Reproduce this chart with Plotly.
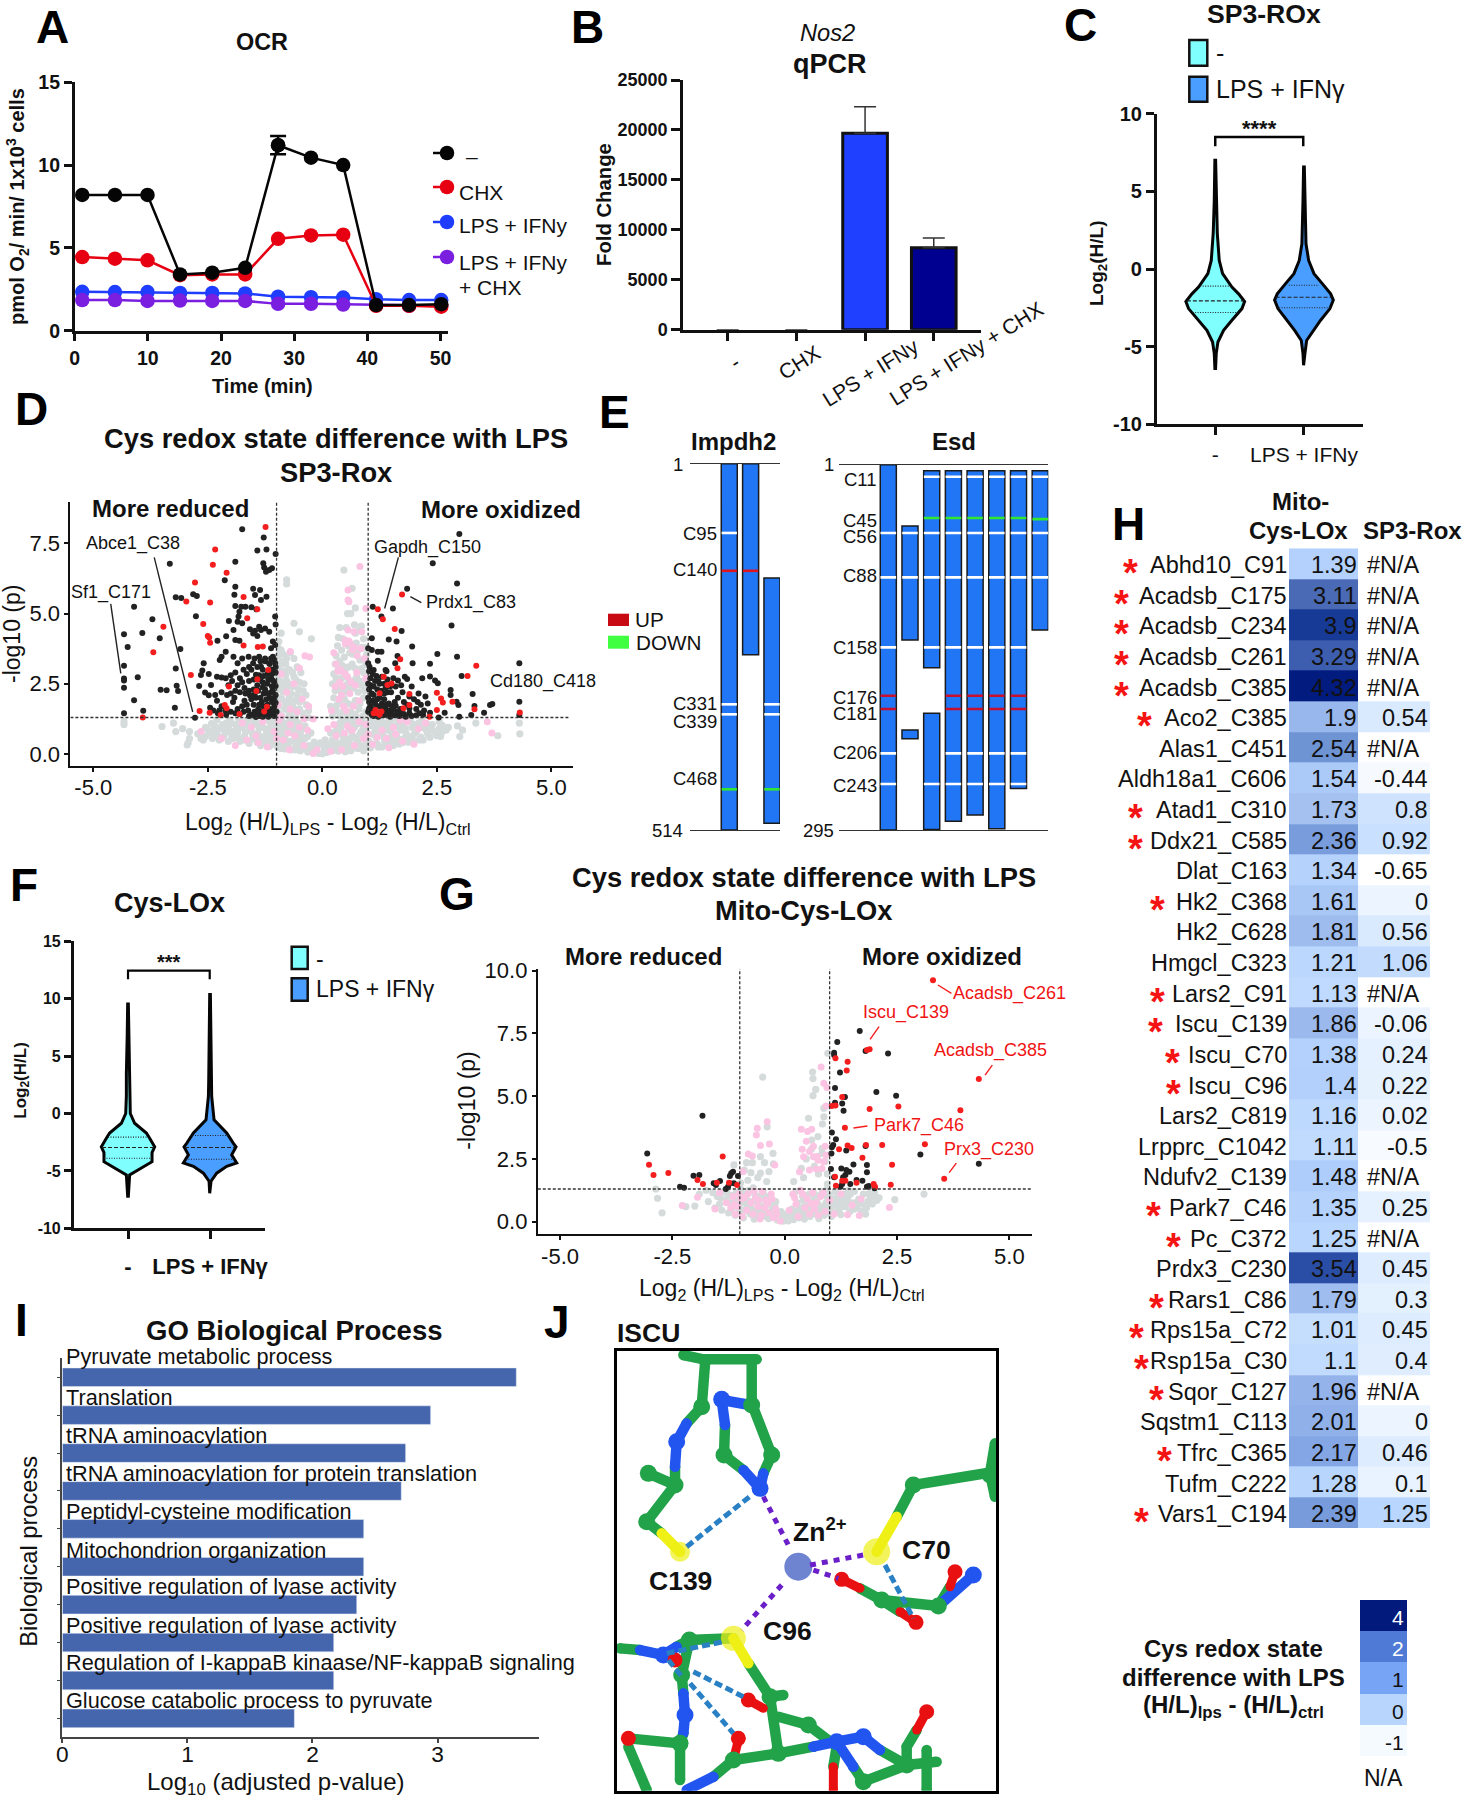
import plotly.graph_objects as go

W, H = 1463, 1800
FONT = "Liberation Sans"
INK = "#111111"

# ---------- A: OCR ----------
a_time = [1.03, 5.5, 9.95, 14.4, 18.8, 23.3, 27.8, 32.3, 36.7, 41.2, 45.7, 50.1]
a_ctrl = [8.2, 8.2, 8.2, 3.4, 3.5, 3.8, 11.2, 10.45, 10.0, 1.55, 1.55, 1.6]
a_chx = [4.45, 4.35, 4.25, 3.35, 3.4, 3.4, 5.55, 5.75, 5.8, 1.5, 1.5, 1.45]
a_lps = [2.35, 2.33, 2.33, 2.28, 2.28, 2.25, 2.05, 2.02, 2.0, 1.9, 1.85, 1.85]
a_both = [1.85, 1.85, 1.8, 1.82, 1.8, 1.8, 1.62, 1.62, 1.58, 1.55, 1.5, 1.5]
a_err_x, a_err_y, a_err = [27.8], [11.2], [0.55]
a_ticks_x = [0, 10, 20, 30, 40, 50]
a_ticks_y = [0, 5, 10, 15]

# ---------- B: qPCR ----------
b_groups = ["-", "CHX", "LPS + IFNy", "LPS + IFNy + CHX"]
b_vals = [0, 0, 19660, 8210]
b_err = [0, 0, 2670, 970]
b_colors = ["#2040FF", "#2040FF", "#2040FF", "#000090"]
b_ticks = [0, 5000, 10000, 15000, 20000, 25000]

# ---------- C and F: violins (value, half width) ----------
c1_y = [7.1, 4.4, 2.3, 0.55, -0.3, -1.16, -1.6, -2.1, -2.55, -3.3, -3.95, -4.7, -5.45, -6.4]
c1_w = [.004, .011, .023, .045, .083, .188, .263, .331, .301, .188, .094, .03, .011, .004]
c2_y = [6.67, 4.4, 1.63, 0.55, -0.3, -0.94, -1.6, -2.0, -2.55, -3.3, -3.95, -4.6, -5.45, -6.2]
c2_w = [.004, .011, .023, .053, .113, .207, .301, .331, .293, .188, .105, .03, .011, .004]
c_quart = [[-1.1, -2.05, -2.8], [-1.05, -1.82, -2.5]]
c_quart_w = [[.17, .32, .255], [.17, .32, .308]]
f1_y = [9.67, 6.7, 3.5, 1.5, 0, -0.85, -1.7, -2.15, -2.9, -3.4, -4.2, -4.75, -5.35, -7.2]
f1_w = [.004, .01, .02, .02, .028, .081, .224, .264, .325, .293, .293, .163, .02, .004]
f2_y = [10.5, 6.4, 2.9, 1.5, -0.55, -1.7, -2.6, -2.9, -3.6, -4.3, -4.6, -5.2, -5.9, -6.95]
f2_w = [.004, .012, .016, .02, .049, .203, .285, .317, .264, .325, .203, .081, .012, .004]
f_quart = [[-2.06, -2.96, -3.9], [-1.92, -2.96, -3.98]]
f_quart_w = [[.244, .317, .293], [.244, .305, .293]]
c_ticks = [-10, -5, 0, 5, 10]
f_ticks = [-10, -5, 0, 5, 10, 15]

# ---------- D: volcano SP3-Rox ----------
d_gray = [(-.78,6.2),(-.78,6.05),(-.62,4.65),(-.5,4.35),(-.24,4.1),(-.9,4.3),(-.95,4.0),(-.9,3.7),(-.97,3.5),(-.88,3.3),(-.95,3.05),(-.8,3.2),(-.7,3.6),(-.62,3.4),(-.55,3.1),(-.65,2.9),(-.8,2.8),(-.92,2.6),(-.72,2.5),(-.58,2.65),(-.47,2.9),(-.4,2.5),(-.52,2.3),(-.68,2.15),(-.85,2.2),(-.95,2.0),(-.75,1.85),(-.6,1.9),(-.45,2.0),(-.35,1.75),(-.5,1.6),(-.65,1.55),(-.82,1.6),(-.95,1.45),(-.3,1.3),
 (.47,6.55),(.65,5.9),(.62,5.0),(.38,4.5),(.52,4.5),(.7,4.6),(.8,4.4),(.85,4.55),(.35,4.15),(.45,4.1),(.72,4.3),(.9,4.1),(.93,3.8),(.78,3.7),(.6,3.6),(.42,3.7),(.3,3.5),(.28,3.2),(.38,3.3),(.5,3.0),(.65,3.2),(.82,3.35),(.95,3.2),(.9,2.9),(.75,2.75),(.58,2.6),(.42,2.7),(.3,2.7),(.22,2.5),(.35,2.35),(.5,2.2),(.68,2.35),(.85,2.45),(.97,2.3),(.9,2.0),(.72,1.9),(.55,1.8),(.38,1.9),(.25,2.0),(.18,1.7),(.3,1.55),(.45,1.5),(.62,1.5),(.8,1.6),(.95,1.5),(.72,5.2),(.55,5.0),
 (.33,3.85),(.48,3.45),(.56,3.85),(.66,3.55),(.74,3.95),(.87,3.8),(.97,3.55),(.34,2.98),(.44,3.15),(.58,3.1),(.72,3.05),(.86,3.05),(.25,2.85),(.36,2.6),(.52,2.45),(.66,2.6),(.8,2.6),(.95,2.65),(.28,2.25),(.42,2.15),(.6,2.35),(.78,2.2),(.92,2.25),(.32,1.75),(.48,1.95),(.64,1.75),(.82,1.8),(.22,1.35),(.38,1.35),(.55,1.35),(.72,1.4),(.88,1.35),
 (-.95,3.75),(-.85,3.55),(-.78,3.4),(-.92,3.2),(-.72,3.0),(-.85,2.95),(-.98,2.8),(-.62,2.75),(-.78,2.6),(-.88,2.45),(-.5,2.55),(-.65,2.4),(-.78,2.35),(-.95,2.3),(-.42,2.25),(-.55,2.1),(-.72,2.0),(-.88,1.95),(-.36,2.1),(-.5,1.85),(-.65,1.75),(-.8,1.8),(-.95,1.7),(-.3,1.55),(-.42,1.45),(-.58,1.4),(-.72,1.35),(-.88,1.35),(-.62,1.62),(-.75,1.55),
 (-4.33,1.15),(-4.33,1.05),(-3.5,.98),(-3.25,1.1),(-3.2,.8),(-3.05,.9),(-2.95,.32),(-2.93,.4),(-2.9,.55),(-2.9,.8),(-2.65,.55),(-2.6,.5),(-2.55,.62),(-2.5,.85),(-2.45,.75),(-2.4,.55),(-2.35,1.0),(-2.3,.7),(-2.25,.5),(-2.2,.9),(-2.15,.65),(-2.1,1.1),(-2.05,.45),(-2.0,.8),(-1.95,.55),(-1.9,1.05),(-1.85,.75),(-1.8,.45),(-1.75,.95),(-1.7,.62),(-1.65,1.2),(-1.6,.38),(-1.55,.8),(-1.5,.55),(-1.45,1.1),(-1.4,.7),(-1.35,.3),(-1.3,.95),(-1.25,.5),(-1.2,1.2),(-1.15,.28),(-1.1,.72),(-1.05,1.05),(-1.0,.4),(-.95,.85),(-.9,.2),(-.88,1.15),(-.82,.6),(-.78,.32),(-.72,.95),(-.68,.15),(-.62,.7),(-.58,1.2),(-.52,.38),(-.48,.12),(-.42,.9),(-.38,.55),(-.32,.07),(-.3,.3),(-.25,.75),(-.2,.04),(-.18,.42),(-.12,.22),(-.08,.02),(-.05,.4),(0,.01),(.03,.28),(.06,.5),(.1,.05),(.14,.35),(.18,.75),(.22,.12),(.28,.5),(.32,1.0),(.36,.2),(.42,.7),(.46,1.2),(.5,.08),(.55,.42),(.6,.9),(.65,.18),(.7,.6),(.75,1.1),(.8,.3),(.85,.8),(.9,.12),(.95,.5),(1.0,1.0),(1.05,.22),(1.1,.7),(1.15,1.2),(1.2,.35),(1.25,.85),(1.3,.25),(1.35,.6),(1.4,1.1),(1.45,.42),(1.5,.8),(1.55,.3),(1.6,1.0),(1.65,.55),(1.7,.85),(1.75,.4),(1.8,1.2),(1.85,.65),(1.9,.5),(1.95,.95),(2.0,.45),(2.05,.8),(2.1,1.1),(2.15,.6),(2.2,.5),(2.25,.9),(2.3,.72),(2.35,.6),(2.4,1.05),(2.45,.8),(2.5,.65),(2.55,.9),(2.6,.75),(2.7,.85),(3.06,.85),(2.95,1.0),(3.0,.62),(3.35,1.1),(3.83,.65),(4.31,.72),(4.3,1.1),(-1.6,1.0),(-1.3,.6),(-.98,1.25),(-.7,.45),(.4,.35),(.75,.5),(1.2,.95),(1.5,1.2),(-.55,.85),(-1.15,.95),(.95,.8),(-.8,1.0),(.6,.55),(-.35,.2),(.25,.2),
 (-2.3,1.22),(-2.02,1.2),(-1.82,1.24),(-1.52,1.25),(-1.27,1.22),(-1.08,1.22),(-.93,1.24),(-.7,1.25),(-.52,1.1),(-.38,1.0),(.38,1.1),(.55,1.22),(.68,1.25),(.87,1.2),(1.05,1.22),(1.28,1.25),(1.46,1.22),(1.65,1.22),(1.92,1.2),(2.17,1.2),(2.55,1.15),
 (-2.42,1.08),(-2.18,1.05),(-1.98,1.1),(-1.72,1.08),(-1.5,1.05),(-1.33,1.1),(-1.12,1.1),(-.9,1.05),(-.74,1.12),(-.6,1.05),(.52,1.08),(.66,1.05),(.82,1.08),(1.02,1.12),(1.25,1.1),(1.48,1.05),(1.72,1.08),(2.02,1.05),(2.28,1.08),(2.62,1.02),
 (-2.55,.95),(-2.28,.92),(-2.05,.98),(-1.8,.95),(-1.58,.9),(-1.38,.92),(-1.18,.85),(-1,.95),(-.85,.9),(-.66,.85),(-.48,.78),(-.32,.62),(.28,.8),(.4,.92),(.56,.98),(.7,.95),(.9,.98),(1.12,1.0),(1.32,.95),(1.55,.98),(1.8,.92),(2.18,.95),(2.38,.88),(2.75,.95),
 (-2.72,.72),(-2.4,.82),(-2.12,.78),(-1.9,.82),(-1.68,.78),(-1.48,.72),(-1.22,.75),(-1.02,.68),(-.9,.72),(-.74,.78),(-.55,.62),(-.44,.6),(.22,.5),(.34,.72),(.48,.62),(.64,.78),(.82,.72),(.98,.75),(1.15,.82),(1.3,.72),(1.42,.85),(1.62,.72),(1.82,.78),(2.0,.7),(2.28,.8),(2.58,.62),
 (-2.28,.6),(-1.98,.65),(-1.72,.5),(-1.52,.65),(-1.38,.5),(-1.18,.62),(-1.05,.5),(-.92,.55),(-.8,.42),(-.62,.48),(-.46,.45),(-.22,.2),(.16,.22),(.32,.35),(.45,.48),(.6,.35),(.78,.42),(.92,.62),(1.02,.45),(1.18,.58),(1.36,.45),(1.5,.6),(1.62,.42),(1.78,.55),(1.95,.62),(2.12,.5),
 (-1.82,.55),(-1.62,.45),(-1.42,.42),(-1.28,.38),(-1.08,.35),(-.9,.3),(-.74,.25),(-.58,.28),(-.42,.25),(-.28,.14),(-.14,.1),(.05,.12),(.2,.3),(.35,.1),(.48,.28),(.62,.12),(.72,.32),(.88,.28),(1.08,.32),(1.22,.25),(1.38,.32),(1.55,.4),(1.68,.36),(1.88,.42),(-1.15,.42),(-.98,.25),(-.82,.18),(-.6,.15),(-.45,.18),(.55,.2),(.78,.2),(1.0,.28)]
d_pink = [(.82,6.67),(.56,5.84),(.56,5.48),(.58,5.42),(.95,5.18),(.56,4.41),(.69,4.35),(.86,4.35),(.5,4.05),(.6,3.95),(.7,3.8),(.76,3.5),(.92,3.4),(.25,3.6),(.3,3.2),(.4,3.0),(.42,2.95),(.55,2.75),(.72,2.45),(.28,2.4),(.6,2.15),(.36,1.95),(.8,1.9),(.46,1.7),(.2,1.55),(-.7,3.65),(-.38,3.5),(-.28,3.45),(-.5,3.05),(-.9,2.85),(-.62,2.5),(-.78,2.2),(-.44,1.95),(-.96,1.75),(-.3,1.7),(-.7,1.6),(-.9,1.35),(-.2,1.25),
 (-2.65,.8),(-2.2,.55),(-1.9,.3),(-1.75,1.1),(-1.45,.65),(-1.2,.25),(-1.05,.8),(-.95,1.2),(-.85,.5),(-.72,.15),(-.6,.65),(-.5,.95),(-.4,.3),(-.2,.02),(.12,.9),(.3,.65),(.42,.15),(.55,1.0),(.7,.3),(.8,1.15),(.9,.55),(1.1,.35),(1.3,.85),(1.45,.22),(1.6,.7),(1.75,.45),(1.85,1.15),(2.0,.35),(2.1,.9),(2.25,1.1),(3.6,1.15),(3.7,.75),(1.7,1.2),(-1.3,1.15),(-1.65,.5),
 (.5,3.92),(.58,4.02),(.66,3.72),(.84,3.75),(.38,2.55),(.45,2.4),(.5,2.85),(.34,2.95),(.62,2.55),(.42,2.1),(.52,1.55),(.68,1.7),(.75,2.9),(.95,2.7),(-.55,1.5),(-.4,1.25),(-.7,1.05),(-.32,.85),(.25,1.05),(.48,.75),(.65,.85),(.95,1.05),(1.2,.6),(-1.55,.95),(-1.0,.55),(-.75,.75),(-1.4,.4),(-.12,.15),(.18,.1),(1.0,.7),(1.4,.55),(1.55,.95)]
d_black = [(-4.33,4.26),(-4.25,3.81),(-4.11,5.24),(-4.33,3.14),(-4.33,2.69),(-4.33,2.62),(-4.33,2.36),(-4.03,2.73),(-4.11,1.91),(-4.33,1.45),(-3.91,1.54),(-3.71,4.8),(-3.93,4.31),(-3.55,4.12),(-3.33,6.77),(-3.1,3.74),(-3.2,3.04),(-3.18,2.43),(-3.15,2.24),(-3.53,2.29),(-3.4,2.27),(-3.22,1.65),(-3.2,5.58),(-3.08,5.55),(-2.78,1.29),(-2.82,5.69),(-2.74,5.62),(-2.76,4.9),(-2.59,3.23),(-2.62,2.97),(-2.65,2.81),(-2.48,2.85),(-2.69,2.42),(-2.56,2.19),(-2.43,2.46),(-2.48,2.09),(-2.34,2.1),(-2.29,4.03),(-2.1,4.19),
 (-1.75,8.0),(-1.28,7.71),(-1.42,7.24),(-1.22,7.28),(-1.02,7.12),(-1.29,6.79),(-1.27,6.64),(-1.23,6.49),(-1.1,6.61),(-1.16,6.55),(-1.9,6.84),(-2.13,6.18),(-1.9,5.95),(-1.51,5.88),(-1.36,5.84),(-1.47,5.66),(-1.22,5.6),(-1.34,5.48),(-1.92,5.67),(-1.9,5.27),(-1.77,5.24),(-1.68,5.24),(-1.55,5.22),(-1.44,5.15),(-1.81,5.06),(-1.83,4.89),(-1.85,4.71),(-1.75,4.65),(-2.04,4.73),(-1.03,4.89),(-1.02,4.61),(-1.94,4.41),(-1.58,4.44),(-1.47,4.39),(-1.38,4.53),(-1.25,4.47),(-1.51,4.29),(-1.42,4.2),(-1.34,4.41),(-1.16,4.35),(-1.9,4.06),(-1.81,4.03),(-1.08,4.0),(-1.03,3.88),(-1.12,3.76),(-2.11,3.64),(-2.2,3.46),(-2.24,3.35),(-1.94,3.46),(-1.85,3.23),(-1.75,3.4),(-1.61,3.46),(-1.38,3.46),(-1.25,3.4),(-1.08,3.46),(-1.03,3.23),(-1.16,3.23),(-1.34,3.11),(-1.51,3.23),
 (-2.3,2.75),(-2.2,2.72),(-2.11,2.7),(-2.0,2.8),(-1.97,2.6),(-2.05,2.45),(-1.9,2.9),(-1.8,2.7),(-1.72,3.0),(-1.65,2.85),(-1.6,2.6),(-1.55,3.0),(-1.5,2.65),(-1.42,3.1),(-1.38,2.8),(-1.3,3.0),(-1.25,3.3),(-1.2,2.85),(-1.15,3.2),(-1.1,3.0),(-1.05,3.35),(-1.02,2.9),(-1.12,2.7),(-1.05,2.55),(-1.2,2.5),(-1.3,2.55),(-1.42,2.45),(-1.5,2.3),(-1.6,2.25),(-1.7,2.35),(-1.8,2.2),(-1.9,2.25),(-2.0,2.15),(-2.08,2.1),(-2.2,2.2),(-2.3,1.9),(-2.45,1.65),(-2.38,1.55),(-2.28,1.45),(-2.2,1.7),(-2.1,1.4),(-2.0,1.5),(-1.95,1.85),(-1.85,1.6),(-1.8,1.42),(-1.7,1.9),(-1.62,1.55),(-1.55,1.4),(-1.5,1.75),(-1.45,2.0),(-1.4,1.6),(-1.38,1.35),(-1.32,1.85),(-1.28,2.15),(-1.25,1.5),(-1.2,1.75),(-1.15,2.0),(-1.12,1.4),(-1.08,2.25),(-1.05,1.7),(-1.02,2.1),(-1.0,1.5),(-1.05,1.35),(-1.18,1.33),(-1.3,1.33),(-1.45,1.32),(-1.6,1.35),(-1.75,1.7),(-1.4,2.25),(-1.25,2.3),(-1.1,2.4),(-1.35,2.0),(-1.48,1.5),(-1.15,1.6),(-1.28,1.68),(-1.1,1.85),
 (-1.18,2.15),(-1.22,1.95),(-1.3,2.38),(-1.36,2.65),(-1.45,2.82),(-1.18,2.65),(-1.08,2.62),(-1.02,2.42),(-1.05,2.0),(-1.12,2.2),(-1.48,2.12),(-1.55,1.95),(-1.38,1.75),(-1.42,1.45),(-1.35,1.5),(-1.22,1.4),(-1.08,1.55),(-1.02,1.82),(-1.28,1.42),(-1.15,1.45),(-1.58,2.08),(-1.68,2.15),(-1.72,1.5),(-1.65,1.75),(-1.9,1.45),(-1.92,2.0),(-2.12,1.55),(-2.25,1.55),(-1.85,2.45),(-1.75,2.55),(-1.35,3.3),(-1.12,3.4),(-1.02,3.1),(-1.28,2.78),(-1.1,2.85),(-1.48,3.4),(-1.6,3.1),
 (1.1,5.24),(1.29,4.89),(1.54,5.18),(1.85,5.88),(2.41,6.79),(2.99,7.83),(2.94,6.07),(2.82,4.57),(1.73,4.38),(1.08,4.12),(1.45,4.08),(1.62,4.0),(1.96,3.83),(1.0,3.76),(1.08,3.7),(1.21,3.64),(1.29,3.64),(1.64,3.49),(2.51,3.56),(2.94,3.46),(1.21,3.32),(1.0,3.23),(1.03,3.11),(1.12,2.99),(1.59,3.23),(1.97,3.23),(2.35,3.21),(1.38,2.99),(1.85,2.67),(2.18,2.7),(2.35,2.76),(2.46,2.62),(2.52,2.52),(4.3,3.23),(3.04,2.78),(3.28,2.14),(4.3,1.86),(4.3,1.39),(3.66,1.74),(3.71,1.78),(3.53,1.47),(3.32,1.71),(3.25,1.39),(2.99,1.33),(2.93,1.86),(2.97,1.74),(2.8,2.28),(2.8,2.1),(2.67,1.47),(2.54,1.3),(2.35,1.47),
 (1.02,2.95),(1.05,2.7),(1.0,2.5),(1.1,2.85),(1.15,2.6),(1.02,2.3),(1.08,2.15),(1.0,2.0),(1.1,1.9),(1.05,1.7),(1.0,1.5),(1.08,1.4),(1.15,1.6),(1.2,2.3),(1.25,2.0),(1.3,2.75),(1.35,2.5),(1.4,2.95),(1.42,2.2),(1.45,1.8),(1.5,1.5),(1.55,2.7),(1.6,2.4),(1.65,2.0),(1.7,1.6),(1.75,2.2),(1.8,2.75),(1.85,1.75),(1.9,1.45),(1.95,2.4),(2.0,1.95),(2.05,1.6),(2.1,2.15),(2.15,1.75),(2.25,2.05),(2.3,1.8),(1.12,1.35),(1.18,1.45),(1.22,1.33),(1.28,1.5),(1.33,1.38),(1.38,1.6),(1.42,1.4),(1.48,1.33),(1.52,1.7),(1.58,1.38),(1.63,1.5),(1.68,1.35),(1.78,1.42),(1.82,1.33),(1.95,1.35),(2.05,1.38),(2.2,1.4),(1.12,2.1),(1.3,1.8),(1.22,1.7),(1.35,2.15),(1.5,2.2),(1.58,1.85),(1.9,2.05),
 (1.02,1.85),(1.05,2.45),(1.12,2.4),(1.18,2.78),(1.25,2.5),(1.02,1.62),(1.08,1.55),(1.15,1.8),(1.2,1.95),(1.28,2.25),(1.35,1.95),(1.38,2.35),(1.22,2.6),(1.4,1.75),(1.15,1.42),(1.3,1.62),(1.45,1.55),(1.35,1.45),(1.55,1.6),(1.42,2.65),(1.48,2.4),(1.6,1.72),(1.72,1.45),(1.78,1.85),(2.12,1.45),(2.22,1.55),(2.08,1.85),(1.65,2.62),(1.72,2.45),(1.9,1.62)]
d_red = [(-1.24,8.08),(-2.34,7.28),(-2.39,6.74),(-2.09,6.45),(-2.78,6.1),(-2.97,5.43),(-2.45,5.39),(-1.72,5.59),(-1.42,5.15),(-1.64,4.83),(-2.6,4.63),(-3.47,4.53),(-2.5,4.2),(-2.47,4.15),(-2.45,3.96),(-3.69,3.62),(-1.72,3.86),(-1.41,3.81),(-1.3,3.83),(-2.87,2.81),(-2.04,2.4),(-1.42,2.66),(-1.18,2.99),(-1.44,2.24),(-1.21,1.68),(-2.13,1.74),(-2.09,1.63),(-2.46,1.47),(-2.68,1.53),(-2.22,1.39),(-1.81,1.42),(-1.27,1.51),(-3.92,1.3),
 (1.21,5.15),(1.32,4.8),(1.74,5.68),(1.58,4.45),(1.7,3.37),(1.64,3.05),(1.34,2.75),(1.51,2.51),(1.42,2.46),(1.25,2.16),(1.9,2.14),(2.5,2.18),(2.59,1.98),(2.63,1.83),(3.36,3.14),(3.17,2.78),(2.84,1.86),(3.32,1.59),(2.5,1.57),(2.34,1.33),(4.31,1.48),(1.77,1.63),(1.9,1.74),(1.16,1.57),(1.21,1.45),(1.29,1.51),(1.25,1.39),(1.12,1.45)]
d_leaders = [[(-3.67,7.0),(-2.83,1.5)],[(-4.62,5.34),(-4.40,2.87)],[(1.66,7.0),(1.36,5.18)],[(1.92,5.6),(2.16,5.39)]]
v_ticks_x = [-5, -2.5, 0, 2.5, 5]
v_ticks_x_text = ["-5.0", "-2.5", "0.0", "2.5", "5.0"]
d_ticks_y = [0, 2.5, 5, 7.5]
g_ticks_y = [0, 2.5, 5, 7.5, 10]

# ---------- G: volcano Mito-Cys-LOx ----------
g_gray = [(.62,5.96),(.63,5.7),(-.49,5.76),(.69,5.27),(.63,5.02),(.96,6.71),(.87,4.52),(.87,4.18),(.53,4.12),(.84,3.89),(-.39,3.78),(.6,3.25),(.74,3.39),(.83,2.92),(.83,2.72),(-.26,2.72),(-.54,2.59),(-.85,2.35),(-.72,2.35),(-.45,2.35),(-1.13,2.26),(.37,2.12),(-.35,1.99),(-.54,1.93),(.6,2.9),(.48,2.5),(.66,2.2),(.9,2.4),(.75,1.9),(.42,1.75),(.95,1.9),(-.75,1.95),(-.9,2.05),(-.25,2.3),(-.6,1.75),(-.82,1.65),(-.4,1.6),(-.98,1.55),(.2,1.6),(.95,1.5),
 (-2.87,1.3),(-2.83,.93),(-2.73,.35),(-2.2,.6),(-2.0,.62),(-1.9,1.1),(-1.75,1.25),(-1.7,.8),(-1.6,1.15),(-1.55,.55),(-1.5,1.0),(-1.45,.7),(-1.4,.45),(-1.35,1.2),(-1.3,.85),(-1.25,.35),(-1.2,1.05),(-1.15,.6),(-1.1,.25),(-1.05,.85),(-1.0,1.2),(-.95,.45),(-.92,.15),(-.88,.95),(-.84,.62),(-.8,1.25),(-.76,.3),(-.72,.8),(-.68,.1),(-.65,1.05),(-.6,.5),(-.56,.22),(-.52,.9),(-.48,1.2),(-.44,.4),(-.4,.7),(-.36,.12),(-.32,1.0),(-.28,.3),(-.24,.55),(-.2,.8),(-.16,.06),(-.12,.25),(-.08,.4),(-.04,.02),(0,.15),(.04,.3),(.08,.03),(.12,.22),(.16,.5),(.2,.08),(.24,.35),(.28,.75),(.32,.15),(.36,.55),(.4,1.0),(.44,.1),(.48,.4),(.52,.8),(.56,.2),(.6,.62),(.64,1.15),(.68,.3),(.72,.9),(.76,.12),(.8,.5),(.84,1.2),(.88,.25),(.92,.75),(.96,.38),(1.0,1.05),(1.04,.2),(1.08,.65),(1.12,1.2),(1.16,.4),(1.2,.85),(1.25,.28),(1.3,1.1),(1.35,.6),(1.4,.95),(1.45,.4),(1.5,.75),(1.55,1.2),(1.6,.55),(1.65,.9),(1.7,.42),(1.75,1.1),(1.8,.3),(1.85,.8),(1.9,.95),(1.95,.7),(2.0,1.15),(2.05,.85),(2.1,.95),(2.45,.88),(3.1,1.1),(-.9,1.1),(-.6,.78),(-1.2,.42),(.3,.45),(.7,.55),(1.1,.9),(-.3,.65),(-.1,.12),(.1,.12),(-.75,.55),(.5,.25),(.9,.6),(1.25,.6),(-1.0,.7),
 (-1.42,.95),(-1.28,1.12),(-1.12,.85),(-.98,1.0),(-.82,.82),(-.7,1.18),(-.58,1.0),(-.46,.6),(-.38,.92),(-.3,.42),(-.22,.68),(-.5,.35),(-.62,.35),(-.85,.42),(-1.02,.42),(-1.18,.75),(-.9,.78),(-.78,.6),(-.68,.42),(-.55,.62),(-.42,.2),(-.26,.18),(.28,.22),(.38,.3),(.46,.7),(.54,.5),(.6,.35),(.66,.9),(.74,.7),(.82,.3),(.86,.6),(.94,1.0),(1.02,.52),(1.06,.85),(1.14,.7),(1.22,.52),(1.28,.85),(1.38,.75),(1.46,1.1),(1.54,.5),(1.62,.8),(1.72,.7),(1.82,.55),(1.88,1.12),(2.02,1.0),(-.98,1.3),(-.7,1.35),(-.45,1.05),(-1.3,1.3),(.55,1.1),(.78,1.05),(1.18,1.1),(1.42,1.25),(.25,1.2),(.42,.85),(.95,1.3),(-1.08,1.15)]
g_pink = [(.81,6.16),(.87,5.51),(.94,5.35),(.92,4.61),(-.39,3.98),(-.61,3.72),(-.63,3.45),(.37,3.68),(.6,3.68),(.51,3.59),(-.34,3.09),(-.54,3.03),(.39,2.88),(.55,2.79),(-.81,2.7),(-.72,2.62),(.42,2.59),(.64,2.59),(.92,2.66),(.87,2.39),(-.22,2.26),(.33,1.99),(.55,2.06),(.83,2.12),(-.93,1.99),(-2.28,.64),(-1.94,.97),(2.33,.56),(1.66,.24),(1.4,.27),
 (-1.55,.5),(-1.45,1.15),(-1.3,.75),(-1.2,.55),(-1.1,.3),(-1.15,1.0),(-1.05,.6),(-.95,.2),(-.98,.9),(-.85,.45),(-.82,1.1),(-.75,.75),(-.7,.3),(-.65,.95),(-.6,.6),(-.55,.1),(-.5,1.2),(-.45,.55),(-.42,.85),(-.35,.35),(-.3,1.1),(-.25,.15),(-.2,.5),(-.1,.03),(.1,.45),(.18,1.1),(.25,.7),(.3,.2),(.35,1.25),(.45,.55),(.5,.9),(.55,.3),(.62,1.15),(.7,.75),(.75,.25),(.8,1.0),(.9,.4),(1.0,.85),(1.1,.3),(1.25,1.1),(1.5,.65),(1.7,.9),
 (-1.12,.7),(-1.02,1.1),(-.9,.95),(-.68,1.22),(-.58,.85),(-.52,.25),(-.38,.72),(-.28,.9),(-.18,.3),(.22,.95),(.4,1.1),(.58,.72),(.66,.5),(.86,1.15),(.7,2.1),(.74,2.45),(.9,3.0),(.48,3.2),(.64,3.0),(.72,2.6)]
g_black = [(1.67,7.6),(1.17,7.16),(1.1,6.73),(1.1,6.64),(1.8,6.8),(2.3,6.7),(1.23,5.94),(1.12,5.33),(2.04,5.17),(2.48,5.02),(1.34,4.97),(1.28,4.71),(1.12,4.74),(1.31,4.42),(-1.83,4.22),(1.05,3.55),(1.14,3.28),(1.08,3.05),(1.05,2.96),(1.37,2.83),(1.8,3.01),(1.04,2.72),(3.02,2.68),(4.32,2.31),(-3.06,2.72),(1.53,2.28),(1.83,2.26),(1.26,2.12),(1.03,2.1),(1.37,2.06),(1.44,1.99),(1.35,1.86),(1.83,1.97),(1.3,1.77),(1.1,1.77),(1.6,1.66),(1.73,1.63),(1.46,1.5),(1.24,1.39),(1.28,1.5),(1.83,1.39),(1.87,1.42),(2.0,1.33),(-2.03,1.83),(-1.9,1.86),(-1.15,1.99),(-1.19,1.93),(-1.22,1.82),(-1.04,1.82),(-1.44,1.62),(-1.58,1.53),(-1.53,1.46),(-2.33,1.39),(-2.24,1.35),(-1.22,1.53),(-1.26,1.39),(-1.31,1.3),(-1.13,1.53)]
g_red = [(3.3,9.62),(1.89,6.87),(1.83,6.84),(1.4,6.37),(1.13,6.51),(1.38,6.02),(4.32,5.68),(1.28,4.97),(1.05,4.61),(1.13,4.63),(1.89,4.49),(2.53,4.59),(3.91,4.44),(1.34,3.74),(1.4,3.03),(1.49,2.93),(1.21,2.88),(1.81,3.05),(2.17,3.05),(3.12,3.08),(-1.38,2.6),(1.73,2.55),(2.39,2.27),(-3.02,2.27),(-2.92,1.86),(-2.59,1.94),(-1.94,1.66),(-1.82,1.5),(-1.51,1.55),(-1.24,1.55),(-1.06,1.46),(3.55,1.71),(2.36,1.47),(1.12,1.79),(1.28,1.63),(1.35,1.63),(1.6,1.55),(1.98,1.5),(2.01,1.39),(1.14,1.43)]
g_leaders = [[(3.41,9.43),(3.71,9.1)],[(2.1,7.77),(1.9,7.26)],[(4.62,6.24),(4.46,5.84)],[(1.84,3.81),(1.53,3.73)],[(3.82,2.33),(3.66,1.95)]]

# ---------- E: peptide coverage ----------
e1_cols = [0, 1, 2]
e1_start = [1, 1, 161]
e1_end = [514, 268.5, 504.6]
e1_bands = {"#FFFFFF": [(0,98),(2,338),(0,338),(2,352),(0,352)], "#E0141E": [(0,151),(1,151)], "#30E830": [(0,457),(2,457)]}
e2_cols = [0, 1, 1, 2, 2, 3, 4, 5, 6, 7]
e2_start = [1, 50.4, 214.5, 5.8, 201, 5.8, 5.8, 5.8, 5.8, 5.8]
e2_end = [295, 142, 221.5, 164.4, 294.5, 288, 283, 294, 261.7, 134]
e2_white = [(0,56),(0,91.7),(0,148),(0,233.3),(0,258),(1,56),(1,91.7),(2,10.7),(2,56),(2,91.7),(2,148),(2,258)] + \
    [(c, r) for c in (3, 4, 5, 6) for r in (10.7, 56, 91.7, 148, 233.3, 258)] + [(7,10.7),(7,56),(7,91.7)]
e2_red = [(0,187),(0,197.6)] + [(c, r) for c in (3, 4, 5, 6) for r in (187, 197.6)]
e2_green = [(2,43.9),(3,43.9),(4,43.9),(5,43.9),(6,43.9),(7,44.8)]
e1_names = ["C95", "C140", "C331", "C339", "C468"]
e1_label_y = [534, 569, 703.7, 721.3, 778.7]
e2_names = ["C11", "C45", "C56", "C88", "C158", "C176", "C181", "C206", "C243"]
e2_label_y = [480, 520, 536.7, 575.7, 647.3, 697.7, 713.3, 752.7, 785.7]

# ---------- H: table ----------
h_rows = ["Abhd10_C91","Acadsb_C175","Acadsb_C234","Acadsb_C261","Acadsb_C385","Aco2_C385","Alas1_C451","Aldh18a1_C606","Atad1_C310","Ddx21_C585","Dlat_C163","Hk2_C368","Hk2_C628","Hmgcl_C323","Lars2_C91","Iscu_C139","Iscu_C70","Iscu_C96","Lars2_C819","Lrpprc_C1042","Ndufv2_C139","Park7_C46","Pc_C372","Prdx3_C230","Rars1_C86","Rps15a_C72","Rsp15a_C30","Sqor_C127","Sqstm1_C113","Tfrc_C365","Tufm_C222","Vars1_C194"]
h_lox = [1.39,3.11,3.9,3.29,4.32,1.9,2.54,1.54,1.73,2.36,1.34,1.61,1.81,1.21,1.13,1.86,1.38,1.4,1.16,1.11,1.48,1.35,1.25,3.54,1.79,1.01,1.1,1.96,2.01,2.17,1.28,2.39]
h_rox = [None,None,None,None,None,.54,None,-.44,.8,.92,-.65,0,.56,1.06,None,-.06,.24,.22,.02,-.5,None,.25,None,.45,.3,.45,.4,None,0,.46,.1,1.25]
h_star_zx = [92,63,63,63,63,133,None,None,105,105,None,173,None,None,172,166,216,220,None,None,None,161,221,None,170,108,124,170,None,192,None,124]
h_scale_v = [-.65,-.5,0,.25,.54,.8,1.01,1.25,1.48,1.73,1.9,2.17,2.54,3.11,3.54,3.9,4.32]
h_scale_c = ["#FFFFFF","#F7FBFF","#EBF4FF","#E5F1FE","#DAEAFE","#CFE3FE","#C5DEFE","#B9D6FE","#AFCDFA","#A4C1F0","#98B7EC","#85A6E5","#6E94D4","#4A6AB5","#2A4EA5","#173A96","#021B7F"]
key_vals = [4, 2, 1, 0, -1]
key_cols = ["#021A7C", "#4F7BD6", "#78A4F5", "#B7D5FD", "#F5FAFF"]

# ---------- I: GO ----------
i_terms = ["Pyruvate metabolic process","Translation","tRNA aminoacylation","tRNA aminoacylation for protein translation","Peptidyl-cysteine modification","Mitochondrion organization","Positive regulation of lyase activity","Positive regulation of lyase activity","Regulation of I-kappaB kinaase/NF-kappaB signaling","Glucose catabolic process to pyruvate"]
i_vals = [3.63, 2.945, 2.745, 2.71, 2.41, 2.41, 2.354, 2.17, 2.17, 1.855]
i_label_y = [1356.7, 1397.7, 1435.7, 1473.7, 1511.7, 1550, 1586, 1625.3, 1662.3, 1700]

# ---------- J: ISCU model ----------
j_green = [[(460,165),(520,178),(680,178)],[(525,190),(515,320)],[(665,180),(665,310)],[(515,320),(470,370)],[(435,500),(435,555)],[(355,520),(435,555)],[(435,555),(350,665),(395,700)],[(585,375),(582,465),(640,510)],[(665,310),(725,465),(700,520)],
 [(1395,515),(1150,555),(1100,650)],[(1395,430),(1380,520),(1395,590)],[(990,865),(1055,900),(1225,918),(1260,860)],[(1055,900),(1110,935)],
 [(270,1045),(330,1050)],[(440,1040),(478,1020),(610,1015)],[(655,1090),(720,1190),(745,1360),(610,1380),(550,1430)],[(478,1020),(455,1125),(460,1180)],[(460,1300),(450,1330),(295,1315)],[(295,1340),(350,1470)],[(450,1330),(450,1440)],[(745,1360),(850,1340)],[(970,1400),(1000,1445),(1130,1395),(1130,1340),(1160,1290)],[(1050,1350),(1130,1395),(1220,1385)],[(1190,1350),(1190,1470)],[(745,1250),(835,1275),(920,1340),(910,1400)],[(720,1190),(760,1185)]]
j_blue = [[(470,370),(440,425),(435,500)],[(575,300),(585,375)],[(640,510),(690,565),(700,520)],[(575,300),(660,315)],[(1225,918),(1270,875),(1330,825)],[(330,1050),(400,1065),(440,1040)],[(460,1180),(465,1245),(460,1300)],[(550,1430),(470,1470)],[(850,1340),(920,1325),(970,1400)],[(920,1325),(1000,1310),(1050,1350)]]
j_yellow = [[(395,700),(450,755)],[(1100,650),(1040,755)],[(610,1015),(655,1090)]]
j_red = [[(935,838),(990,865)],[(1260,860),(1275,815)],[(1110,935),(1158,967)],[(610,1380),(625,1320)],[(1160,1290),(1190,1235)],[(910,1400),(910,1470)],[(700,1225),(655,1200)]]
j_purple = [[(700,590),(780,745)],[(840,795),(1000,765)],[(850,810),(925,835)],[(755,855),(635,990)]]
j_dash = [[(470,740),(665,585)],[(1065,795),(1150,955)],[(410,1060),(580,1025)],[(415,1080),(460,1135)],[(480,1150),(610,1300)],[(490,1115),(640,1190)]]
j_atoms_green = [(515,320),(665,315),(725,465),(582,465),(435,555),(350,665),(355,520),(1150,555),(1380,525),(1055,900),(1225,918),(478,1020),(455,1125),(720,1190),(745,1360),(610,1380),(450,1330),(835,1275),(1130,1395),(1000,1445)]
j_atoms_blue = [(575,298),(690,565),(440,425),(400,1065),(465,1245),(920,1325),(1000,1310),(1330,825)]
j_atoms_red = [(935,838),(1158,967),(1275,815),(1190,1235),(625,1315),(655,1200),(295,1315),(435,1080)]
j_atoms_yellow = [(450,755),(1040,755),(610,1015)]
j_atoms_yellow_size = [20, 27, 25]
j_zn = [(805,800)]

fig = go.Figure()
layout = {}
anns = []
shapes = []


def T(x, y, s, size, bold=False, color=INK, anchor="center", angle=0, italic=False):
    if bold:
        s = f"<b>{s}</b>"
    if italic:
        s = f"<i>{s}</i>"
    anns.append(dict(x=x / W, y=1 - y / H, xref="paper", yref="paper", text=s, showarrow=False,
                     xanchor=anchor, yanchor="middle", textangle=angle, borderpad=0, borderwidth=0,
                     font=dict(size=size, color=color, family=FONT)))


def R(x0, y0, x1, y1, fill, lw=2.5, lc=INK):
    shapes.append(dict(type="rect", xref="paper", yref="paper", x0=x0 / W, x1=x1 / W, y0=1 - y0 / H, y1=1 - y1 / H,
                       fillcolor=fill, line=dict(color=lc, width=lw)))


def axes(n, l, r, t, b, xr, yr, xo=None, yo=None):
    s = "" if n == 1 else str(n)
    base = dict(showline=True, linecolor=INK, linewidth=2.5, ticks="outside", ticklen=8, tickwidth=2.5,
                tickcolor=INK, zeroline=False, showgrid=False)
    xd = dict(base, domain=[l / W, r / W], range=xr, anchor="y" + s)
    yd = dict(base, domain=[1 - b / H, 1 - t / H], range=yr, anchor="x" + s)
    xd.update(xo or {})
    yd.update(yo or {})
    layout["xaxis" + s] = xd
    layout["yaxis" + s] = yd
    return dict(xaxis="x" + s, yaxis="y" + s)


HIDE = dict(showline=False, ticks="", showticklabels=False, tickmode="array", tickvals=[])


def tf(size, bold=False, color=INK):
    return dict(size=size, family=FONT, color=color, weight="bold" if bold else "normal")


def add(trace):
    trace.showlegend = False
    trace.hoverinfo = "skip"
    fig.add_trace(trace)


def segs(lines):
    xs, ys = [], []
    for ln in lines:
        for p in ln:
            xs.append(p[0])
            ys.append(p[1])
        xs.append(None)
        ys.append(None)
    return xs, ys


# ---- A ----
A = axes(1, 74.7, 447.6, 82.3, 330.7, [0, 50.97], [0, 15],
         dict(tickvals=a_ticks_x, tickfont=tf(19.5, True)),
         dict(tickvals=a_ticks_y, tickfont=tf(19.5, True)))
for ys, col in ((a_lps, "#1F3DFF"), (a_both, "#7A1FE0"), (a_chx, "#E60012"), (a_ctrl, "#050505")):
    add(go.Scatter(x=a_time, y=ys, mode="lines+markers", cliponaxis=False,
                   line=dict(color=col, width=2.5), marker=dict(color=col, size=14.5), **A))
add(go.Scatter(x=a_err_x, y=a_err_y, mode="markers", cliponaxis=False, marker=dict(color="#050505", size=14.5),
               error_y=dict(type="data", array=a_err, color="#050505", thickness=2.5, width=8), **A))
# legend keys for A use a page-scale axis
OV = axes(13, 0, W, 0, H, [0, W], [H, 0], HIDE, HIDE)
for yk, col in ((153, "#050505"), (187, "#E60012"), (222, "#1F3DFF"), (257, "#7A1FE0")):
    add(go.Scatter(x=[433, 447], y=[yk, yk], mode="lines", line=dict(color=col, width=2.5), **OV))
    add(go.Scatter(x=[447], y=[yk], mode="markers", marker=dict(color=col, size=14.5), **OV))
T(466, 156, "–", 21, anchor="left")
T(458.7, 192, "CHX", 21, anchor="left")
T(458.7, 225, "LPS + IFNy", 21, anchor="left")
T(458.7, 263, "LPS + IFNy", 21, anchor="left")
T(458.7, 287, "+ CHX", 21, anchor="left")
T(262, 42, "OCR", 23.4, True)
T(262, 385.7, "Time (min)", 20, True)
T(18, 207, "pmol O<sub>2</sub>/ min/ 1x10<sup>3</sup> cells", 20, True, angle=-90)
for x, y, s in ((53, 27, "A"), (587, 27, "B"), (1080, 25, "C"), (31, 409, "D"), (614, 412, "E"), (24, 885, "F"),
                (456.5, 894, "G"), (1128, 524, "H"), (21, 1320, "I"), (557, 1322, "J")):
    T(x, y, s, 46, True, "#000000")

# ---- B ----
B = axes(2, 683, 980.7, 80, 329.7, [-.65, 3.683], [0, 25000],
         dict(tickvals=[0, 1, 2, 3], showticklabels=False, ticklen=9),
         dict(tickvals=b_ticks, ticktext=[str(v) for v in b_ticks], tickfont=tf(18, True), ticklen=9))
add(go.Bar(x=[0, 1, 2, 3], y=b_vals, width=.65, marker=dict(color=b_colors, line=dict(color=INK, width=[0, 0, 3, 3])),
           error_y=dict(type="data", symmetric=False, array=b_err, arrayminus=[0, 0, 0, 0], color="#333333",
                        thickness=1.5, width=11), **B))
for (x, y), s in zip(((734, 362), (799, 362), (870.4, 372), (966, 353)), b_groups):
    T(x, y, s, 21, angle=-32)
T(827, 33, "Nos2", 23.7, italic=True)
T(830, 64, "qPCR", 27, True)
T(604, 205, "Fold Change", 20.3, True, angle=-90)


# ---- violins ----
def violin(ax, c, ys, ws, fill, qy, qw):
    add(go.Scatter(x=[c + w for w in ws] + [c - w for w in reversed(ws)], y=ys + ys[::-1], mode="lines",
                   fill="toself", fillcolor=fill, line=dict(color="#050505", width=3), **ax))
    for i, (v, w) in enumerate(zip(qy, qw)):
        add(go.Scatter(x=[c - w, c + w], y=[v, v], mode="lines",
                       line=dict(color="#222222", width=1.1, dash="4px,2px" if i == 1 else "1px,1.5px"), **ax))


C = axes(3, 1156.7, 1363.3, 113.7, 424.3, [-.66, 1.669], [-10, 10],
         dict(tickvals=[0, 1], ticktext=["-", "LPS + IFNy"], tickfont=tf(21), ticklabelstandoff=2),
         dict(tickvals=c_ticks, ticktext=["-10", "-5", "0", "5", "10"], tickfont=tf(20, True)))
violin(C, 0, c1_y, c1_w, "#80FFFF", c_quart[0], c_quart_w[0])
violin(C, 1, c2_y, c2_w, "#4A9EFF", c_quart[1], c_quart_w[1])
add(go.Scatter(x=[0, 0, .992, .992], y=[7.9, 8.5, 8.5, 7.9], mode="lines", line=dict(color="#050505", width=2.5), **C))
T(1259.7, 128, "****", 22, True)
T(1264, 14, "SP3-ROx", 26.6, True)
T(1098, 263, "Log<sub>2</sub>(H/L)", 19, True, angle=-90)
R(1189.3, 40, 1207.3, 65.7, "#80FFFF")
R(1189.3, 76.7, 1207.3, 101.7, "#4A9EFF")
T(1216, 53, "-", 25, anchor="left")
T(1216, 89, "LPS + IFNγ", 25, anchor="left")

F = axes(4, 73.7, 265, 941.3, 1228.3, [-.662, 1.67], [-10, 15],
         dict(tickvals=[0, 1], ticktext=["-", "LPS + IFNγ"], tickfont=tf(22, True), ticklabelstandoff=9),
         dict(tickvals=f_ticks, ticktext=["-10", "-5", "0", "5", "10", "15"], tickfont=tf(16, True), ticklen=7))
violin(F, 0, f1_y, f1_w, "#80FFFF", f_quart[0], f_quart_w[0])
violin(F, 1, f2_y, f2_w, "#4A9EFF", f_quart[1], f_quart_w[1])
add(go.Scatter(x=[0, 0, .996, .996], y=[11.7, 12.45, 12.45, 11.7], mode="lines", line=dict(color="#050505", width=2.2), **F))
T(169, 962, "***", 20, True)
T(169, 902.7, "Cys-LOx", 27, True)
T(21.7, 1080, "Log<sub>2</sub>(H/L)", 17, True, angle=-90)
R(291.7, 946.7, 307.7, 969, "#80FFFF")
R(291.7, 978.3, 307.7, 1000.7, "#4A9EFF")
T(316, 959, "-", 23, anchor="left")
T(316, 989, "LPS + IFNγ", 23, anchor="left")


# ---- volcanoes ----
def volcano(ax, gray, pink, black, red, leaders, lead_col, x_rng, y_rng):
    for pts, col, size in ((gray, "#D5DBDB", 7.2), (pink, "#FBC4E2", 7), (black, "#222222", 6), (red, "#F51E1E", 6)):
        add(go.Scatter(x=[p[0] for p in pts], y=[p[1] for p in pts], mode="markers",
                       marker=dict(color=col, size=size, line=dict(width=0)), **ax))
    for vx in (-1, 1):
        add(go.Scatter(x=[vx, vx], y=y_rng, mode="lines", line=dict(color="#333333", width=1.3, dash="3px,2px"), **ax))
    add(go.Scatter(x=x_rng, y=[1.3, 1.3], mode="lines", line=dict(color="#333333", width=1.3, dash="3px,2px"), **ax))
    lx, ly = segs(leaders)
    add(go.Scatter(x=lx, y=ly, mode="lines", line=dict(color=lead_col, width=1.4), **ax))


vol_x = dict(tickvals=v_ticks_x, ticktext=v_ticks_x_text, tickfont=tf(22), ticklen=4, tickwidth=1.5, linewidth=2, ticklabelstandoff=-3)
D = axes(5, 70.4, 573.4, 501.7, 765.7, [-5.5, 5.48], [-.416, 8.98], vol_x,
         dict(tickvals=d_ticks_y, ticktext=["0.0", "2.5", "5.0", "7.5"], tickfont=tf(22), ticklen=4, tickwidth=1.5, linewidth=2))
volcano(D, d_gray, d_pink, d_black, d_red, d_leaders, "#222222", [-5.5, 5.4], [-.416, 8.98])
T(336, 439, "Cys redox state difference with LPS", 27.3, True)
T(336, 472.7, "SP3-Rox", 27.3, True)
T(170.8, 508.7, "More reduced", 24, True)
T(500.6, 509, "More oxidized", 24, True)
T(328, 823, "Log<sub>2</sub> (H/L)<sub>LPS</sub> - Log<sub>2</sub> (H/L)<sub>Ctrl</sub>", 23)
T(12, 634, "-log10 (p)", 23, angle=-90)
T(86, 544, "Abce1_C38", 18, anchor="left")
T(71, 592.7, "Sf1_C171", 18, anchor="left")
T(373.7, 547.7, "Gapdh_C150", 18, anchor="left")
T(426, 602.7, "Prdx1_C83", 18, anchor="left")
T(490, 681.7, "Cd180_C418", 18, anchor="left")

G = axes(6, 537.8, 1031.6, 968.7, 1234.3, [-5.495, 5.495], [-.505, 10.08], vol_x,
         dict(tickvals=g_ticks_y, ticktext=["0.0", "2.5", "5.0", "7.5", "10.0"], tickfont=tf(22), ticklen=4, tickwidth=1.5, linewidth=2))
volcano(G, g_gray, g_pink, g_black, g_red, g_leaders, "#F51E1E", [-5.495, 5.495], [-.505, 10.08])
T(803.5, 877.3, "Cys redox state difference with LPS", 27.3, True)
T(803.5, 910, "Mito-Cys-LOx", 27.3, True)
T(643, 956.7, "More reduced", 24, True)
T(942, 956.7, "More oxidized", 24, True)
T(782, 1289, "Log<sub>2</sub> (H/L)<sub>LPS</sub> - Log<sub>2</sub> (H/L)<sub>Ctrl</sub>", 23)
T(466.7, 1101, "-log10 (p)", 23, angle=-90)
RED = "#F01414"
T(953, 994, "Acadsb_C261", 18, color=RED, anchor="left")
T(862.7, 1012.7, "Iscu_C139", 18, color=RED, anchor="left")
T(934, 1050.7, "Acadsb_C385", 18, color=RED, anchor="left")
T(873.7, 1125, "Park7_C46", 18, color=RED, anchor="left")
T(944, 1149, "Prx3_C230", 18, color=RED, anchor="left")


# ---- E ----
def coverage(ax, cols, st, en, hw):
    add(go.Bar(x=cols, y=[b - a for a, b in zip(st, en)], base=st, width=2 * hw,
               marker=dict(color="#2176F5", line=dict(color="#1A1A1A", width=1.5)), **ax))


def bands(ax, items, col, hw, lw=2.6):
    add(go.Scatter(x=sum([[c - hw, c + hw, None] for c, _ in items], []),
                   y=sum([[r, r, None] for _, r in items], []), mode="lines", line=dict(color=col, width=lw), **ax))


E_X = dict(showline=True, mirror=True, linewidth=1.4, linecolor="#333333", ticks="", showticklabels=False)
E1 = axes(7, 690, 780, 463.7, 830, [-1.84, 2.377], [514, 1], E_X, HIDE)
coverage(E1, e1_cols, e1_start, e1_end, .375)
for col, items in e1_bands.items():
    bands(E1, items, col, .36)
E2 = axes(8, 839.3, 1048.3, 464.7, 830, [-2.258, 7.373], [295, 1], E_X, HIDE)
coverage(E2, e2_cols, e2_start, e2_end, .37)
bands(E2, e2_white, "#FFFFFF", .36)
bands(E2, e2_red, "#C8102E", .36)
bands(E2, e2_green, "#30E830", .36)
T(733, 441.7, "Impdh2", 24, True)
T(954, 441.7, "Esd", 24, True)
for nm, yy in zip(e1_names, e1_label_y):
    T(716.7, yy, nm, 18.5, anchor="right")
for nm, yy in zip(e2_names, e2_label_y):
    T(876.7, yy, nm, 18.5, anchor="right")
T(682.7, 464, "1", 18.5, anchor="right")
T(682.7, 830, "514", 18.5, anchor="right")
T(834.3, 465, "1", 18.5, anchor="right")
T(834.3, 830, "295", 18.5, anchor="right")
R(608, 613.7, 629, 626, "#C80A14", lw=0)
R(608, 635.7, 629, 648.7, "#40FF40", lw=0)
T(635, 619, "UP", 20.7, anchor="left")
T(636, 642.7, "DOWN", 20.7, anchor="left")

# ---- H ----
HM = axes(9, 1289, 1430, 548.3, 1528, [0, 141], [31.5, -.5], HIDE, HIDE)
lo, hi = h_scale_v[0], h_scale_v[-1]
h_scale = [[(v - lo) / (hi - lo), c] for v, c in zip(h_scale_v, h_scale_c)]
add(go.Heatmap(x=[0, 69.3, 141], y=list(range(len(h_rows))), z=[[a, b] for a, b in zip(h_lox, h_rox)], zmin=lo, zmax=hi,
               colorscale=h_scale, showscale=False, **HM))
RH = (1528 - 548.3) / 32
for i, nm in enumerate(h_rows):
    yy = 548.3 + (i + .5) * RH + 1.5
    T(1286.7, yy, nm, 23.5, anchor="right")
    T(1356.5, yy, f"{h_lox[i]:g}", 23.5, anchor="right")
    if h_rox[i] is None:
        T(1366.5, yy, "#N/A", 23.5, anchor="left")
    else:
        T(1428, yy, f"{h_rox[i]:g}", 23.5, anchor="right")
    if h_star_zx[i] is not None:
        T(1100 + h_star_zx[i] / 3, yy + 8, "*", 38, True, "#F51414")
T(1300.7, 501, "Mito-", 24, True)
T(1298, 530, "Cys-LOx", 24, True)
T(1412, 530, "SP3-Rox", 24, True)
KEY = axes(10, 1360, 1407.3, 1600, 1756, [-.5, .5], [4.5, -.5], HIDE, HIDE)
add(go.Heatmap(x=[0], y=list(range(len(key_vals))), z=[[v] for v in range(len(key_vals))], zmin=0, zmax=4,
               colorscale=[[i / 4, c] for i, c in enumerate(key_cols)], showscale=False, **KEY))
for i, v in enumerate(key_vals):
    T(1404, 1617.5 + i * 31.2, str(v), 21, color="#FFFFFF" if v >= 2 else INK, anchor="right")
T(1383, 1778, "N/A", 23)
T(1233, 1648, "Cys redox state", 24, True)
T(1233, 1677, "difference with LPS", 24, True)
T(1233, 1706, "(H/L)<sub>lps</sub> - (H/L)<sub>ctrl</sub>", 24, True)

# ---- I ----
I = axes(11, 62.4, 538.8, 1358.3, 1737.3, [0, 3.81], [9.5, -.5],
         dict(tickvals=[0, 1, 2, 3], tickfont=tf(22.7), ticklen=4, tickwidth=1.5, linewidth=1.5, linecolor="#444444", tickcolor="#444444", ticklabelstandoff=-8),
         dict(tickvals=list(range(10)), showticklabels=False, ticklen=4, tickwidth=1.2, linewidth=1.5, linecolor="#444444", tickcolor="#444444"))
add(go.Bar(y=list(range(10)), x=i_vals, orientation="h", width=.49, marker=dict(color="#4565AC"), **I))
for nm, yy in zip(i_terms, i_label_y):
    T(65.8, yy, nm, 21.7, anchor="left")
T(294, 1330, "GO Biological Process", 27.5, True)
T(276, 1783, "Log<sub>10</sub> (adjusted p-value)", 24)
T(28.7, 1551, "Biological process", 23.7, angle=-90)

# ---- J ----
J = axes(12, 616.7, 996, 1350.7, 1790.7, [260, 1398], [1472, 152],
         dict(showline=True, mirror=True, linewidth=3, linecolor="#000000", ticks="", showticklabels=False),
         dict(showline=True, mirror=True, linewidth=3, linecolor="#000000", ticks="", showticklabels=False))
for lines, col, lw in ((j_green, "#22A34A", 10.5), (j_blue, "#2255F0", 10.5), (j_yellow, "#EEF016", 10.5), (j_red, "#E81010", 9)):
    bx, by = segs(lines)
    add(go.Scatter(x=bx, y=by, mode="lines+markers", line=dict(color=col, width=lw),
                   marker=dict(color=col, size=lw, line=dict(width=0)), **J))
for pts, col, sz in ((j_atoms_green, "#22A34A", 17), (j_atoms_blue, "#2255F0", 17), (j_atoms_red, "#E81010", 15),
                     (j_atoms_yellow, "#EEF016", j_atoms_yellow_size), (j_zn, "#6E84D0", 28)):
    add(go.Scatter(x=[p[0] for p in pts], y=[p[1] for p in pts], mode="markers",
                   marker=dict(color=col, size=sz, line=dict(width=0)), **J))
bx, by = segs(j_purple)
add(go.Scatter(x=bx, y=by, mode="lines", line=dict(color="#6B1FC8", width=5, dash="6px,6px"), **J))
bx, by = segs(j_dash)
add(go.Scatter(x=bx, y=by, mode="lines", line=dict(color="#2A80C4", width=5, dash="8px,4px"), **J))
T(648.5, 1332.7, "ISCU", 26.5, True)
T(820, 1530, "Zn<sup>2+</sup>", 26.5, True)
T(680.7, 1581, "C139", 26.5, True)
T(926.7, 1550, "C70", 26.5, True)
T(787.7, 1631, "C96", 26.5, True)

fig.update_layout(width=W, height=H, autosize=False, margin=dict(l=0, r=0, t=0, b=0, autoexpand=False), paper_bgcolor="#FFFFFF",
                  plot_bgcolor="rgba(0,0,0,0)", showlegend=False, barmode="overlay", font=dict(family=FONT, color=INK),
                  annotations=anns, shapes=shapes, **layout)
fig.write_html("out.html", config={"displayModeBar": False},
               post_script="document.body.style.margin='0';document.documentElement.style.overflow='hidden';")
